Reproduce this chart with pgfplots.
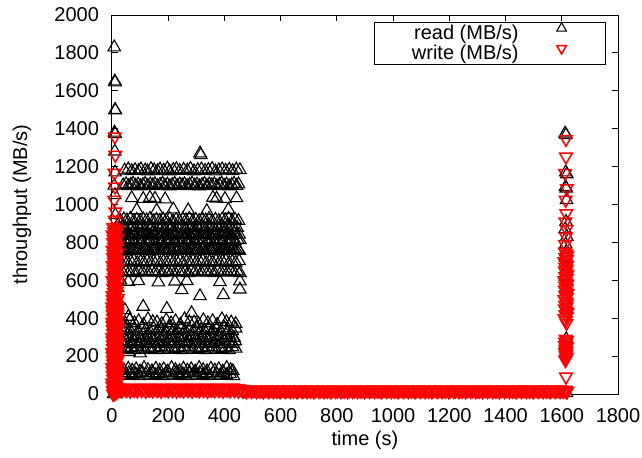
\documentclass[border=0pt]{standalone}
\usepackage{pgfplots}
\pgfplotsset{compat=1.18}
\usepackage{fontspec}
\setmainfont{Liberation Sans}

\tikzset{
    rdmark/.style = {only marks, mark=triangle, mark size=3.6pt, black, mark options={line width=0.55pt}},
    wrmark/.style = {only marks, mark=triangle, mark size=3.6pt, red, mark options={rotate=180, line width=0.75pt}}
}

\begin{document}
\begin{tikzpicture}
\useasboundingbox (-56pt,-31.5pt) rectangle (265pt,197pt);
\begin{axis}[
    scale only axis,
    width=253pt, height=189.5pt,
    xmin=0, xmax=1800, ymin=0, ymax=2000,
    xtick distance=200, ytick distance=200,
    tick align=inside, xtick pos=both, ytick pos=both,
    major tick length=3pt,
    axis on top,
    axis line style={line width=0.5pt},
    every tick/.style={black, line width=0.5pt},
    /pgf/number format/assume math mode=true,
    /pgf/number format/set thousands separator={},
    scaled ticks=false,
    xticklabel style={yshift=-3.5pt},
    yticklabel style={xshift=-3pt},
    xlabel={time (s)}, ylabel={throughput (MB/s)},
    xlabel style={at={(axis description cs:0.5,0)}, anchor=center, yshift=-23pt},
    ylabel style={at={([xshift=-45pt]axis description cs:0,0.5)}, anchor=center},
    clip=false,
    legend cell align=right, legend plot pos=right,
    legend style={at={(0.9763,0.9815)}, anchor=north east, draw=black, line width=0.5pt,
        inner xsep=18.7pt, inner ysep=0.1pt, row sep=0pt, column sep=0pt,
        nodes={inner sep=0.25pt, text height=7.2pt, text depth=2.3pt}},
    legend image code/.code={\path (0pt,0pt) (24pt,0pt); \draw[#1, mark size=2.8pt] plot coordinates {(21pt,3pt)};},
]
% read
\addplot[rdmark] coordinates {
(8,1830) (10,1650) (11,1645) (11,1500) (12,1497) (9,1380) (11,1372) (10,1280) (11,1170) (8,1100) (10,1050) (12,945) (9,865) (11,813) (8,743) (10,690) (12,638) (9,590) (11,520) (8,470) (10,410) (13,350) (9,300) (12,250) (8,190) (11,140) (9,90) (13,50) (10,10) (6,0) (14,0)
% ~1180
(45,1180) (58,1186) (70,1177) (82,1182) (95,1178) (103,1186) (118,1180) (126,1175) (139,1188) (150,1181) (162,1177) (171,1185) (184,1179) (197,1190) (205,1176) (218,1183) (229,1187) (241,1178) (255,1184) (268,1180) (279,1189) (292,1176) (305,1182) (318,1186) (331,1178) (343,1183) (356,1188) (368,1175) (380,1181) (392,1186) (404,1179) (417,1184) (429,1177) (442,1185) (455,1182)
(313,1270) (316,1262)
% ~1105
(40,1102) (50,1108) (58,1098) (67,1105) (75,1111) (84,1100) (93,1106) (101,1097) (110,1104) (118,1110) (127,1099) (136,1107)
(145,1102) (153,1108) (162,1098) (171,1105) (180,1111) (188,1100) (197,1106) (206,1097) (214,1104) (223,1110) (232,1099) (241,1107)
(250,1102) (258,1108) (267,1098) (276,1105) (285,1111) (294,1100) (302,1106) (311,1097) (320,1104) (329,1110) (338,1099) (346,1107)
(355,1102) (364,1108) (373,1098) (382,1105) (390,1111) (399,1100) (408,1106) (417,1097) (426,1104) (434,1110) (443,1099) (450,1107)
% sparse 1033 / 971
(70,1034) (111,1030) (135,1036) (153,1031) (189,1028) (359,1036) (372,1032) (402,1030) (443,1034)
(88,971) (159,968) (218,975) (271,970) (337,966) (414,973)
% ~918
(30,914) (42,922) (53,917) (65,925) (77,912) (88,920) (100,914) (112,922) (123,917) (135,925)
(147,912) (158,920) (170,914) (182,922) (193,917) (205,925) (217,912) (228,920) (240,914) (252,922)
(263,917) (275,925) (287,912) (298,920) (310,914) (322,922) (333,917) (345,925) (357,912) (368,920)
(380,914) (392,922) (403,917) (415,925) (427,912) (438,920) (450,914)
% ~880
(25,878) (37,884) (48,874) (60,886) (72,880) (83,876) (95,878) (107,884)
(118,874) (130,886) (142,880) (153,876) (165,878) (177,884) (188,874) (200,886)
(212,880) (223,876) (235,878) (247,884) (258,874) (270,886) (282,880) (293,876)
(305,878) (317,884) (328,874) (340,886) (352,880) (363,876) (375,878) (387,884)
(398,874) (410,886) (422,880) (433,876) (445,878)
% ~842
(20,842) (29,838) (38,846) (47,840) (56,844) (65,836) (74,848) (83,841)
(92,842) (101,838) (110,846) (119,840) (128,844) (137,836) (146,848) (155,841)
(164,842) (173,838) (182,846) (191,840) (200,844) (209,836) (218,848) (227,841)
(236,842) (245,838) (254,846) (263,840) (272,844) (281,836) (290,848) (299,841)
(308,842) (317,838) (326,846) (335,840) (344,844) (353,836) (362,848) (371,841)
(380,842) (389,838) (398,846) (407,840) (416,844) (425,836) (434,848) (443,841) (452,842)
% ~813
(24,813) (33,809) (42,817) (51,811) (60,815) (69,819) (78,807) (87,814)
(96,813) (105,809) (114,817) (123,811) (132,815) (141,819) (150,807) (159,814)
(168,813) (177,809) (186,817) (195,811) (204,815) (213,819) (222,807) (231,814)
(240,813) (249,809) (258,817) (267,811) (276,815) (285,819) (294,807) (303,814)
(312,813) (321,809) (330,817) (339,811) (348,815) (357,819) (366,807) (375,814)
(384,813) (393,809) (402,817) (411,811) (420,815) (429,819) (438,807) (447,814) (455,813)
% ~760
(22,760) (34,756) (45,764) (57,758) (69,762) (80,766)
(92,760) (104,756) (115,764) (127,758) (139,762) (150,766)
(162,760) (174,756) (185,764) (197,758) (209,762) (220,766)
(232,760) (244,756) (255,764) (267,758) (279,762) (290,766)
(302,760) (314,756) (325,764) (337,758) (349,762) (360,766)
(372,760) (384,756) (395,764) (407,758) (419,762) (430,766)
(442,760) (453,756)
(28,758) (40,763) (51,755) (63,761) (75,765) (86,757) (98,760)
(110,758) (121,763) (133,755) (145,761) (156,765) (168,757) (180,760)
(191,758) (203,763) (215,755) (226,761) (238,765) (250,757) (261,760)
(273,758) (285,763) (296,755) (308,761) (320,765) (331,757) (343,760)
(355,758) (366,763) (378,755) (390,761) (401,765) (413,757) (425,760)
(436,758) (448,763)
% ~698
(20,698) (32,694) (43,702) (55,696) (67,700) (78,704) (90,692)
(102,698) (113,694) (125,702) (137,696) (148,700) (160,704) (172,692)
(183,698) (195,694) (207,702) (218,696) (230,700) (242,704) (253,692)
(265,698) (277,694) (288,702) (300,696) (312,700) (323,704) (335,692)
(347,698) (358,694) (370,702) (382,696) (393,700) (405,704) (417,692)
(428,698) (440,694) (452,702)
% ~645
(26,645) (38,641) (49,649) (61,643) (73,647) (84,639) (96,651) (108,644)
(119,645) (131,641) (143,649) (154,643) (166,647) (178,639) (189,651) (201,644)
(213,645) (224,641) (236,649) (248,643) (259,647) (271,639) (283,651) (294,644)
(306,645) (318,641) (329,649) (341,643) (353,647) (364,639) (376,651) (388,644)
(399,645) (411,641) (423,649) (434,643) (446,647) (455,639)
% sparse 593 / 540 / 450
(30,600) (58,593) (94,596) (165,590) (224,594) (266,597) (384,591) (455,595)
(20,560) (248,549) (313,517) (396,522) (455,552)
(111,461) (46,443) (195,450) (283,427) (58,408)
% ~380
(32,378) (48,370) (63,390) (80,374) (95,385) (112,366) (128,395) (145,380)
(160,378) (177,370) (193,390) (210,374) (226,385) (243,366) (258,395) (275,380)
(292,378) (308,370) (325,390) (341,374) (358,385) (374,366) (391,395) (407,380)
(424,378) (440,370)
% ~338
(22,338) (36,332) (50,346) (64,335) (78,342) (92,330) (106,348)
(120,338) (134,332) (148,346) (162,335) (176,342) (190,330) (204,348)
(218,338) (232,332) (246,346) (260,335) (274,342) (288,330) (302,348)
(316,338) (330,332) (344,346) (358,335) (372,342) (386,330) (400,348)
(414,338) (428,332) (440,346)
% ~303
(28,303) (42,297) (56,310) (70,300) (84,306) (98,295) (112,312)
(126,303) (140,297) (154,310) (168,300) (182,306) (196,295) (210,312)
(224,303) (238,297) (252,310) (266,300) (280,306) (294,295) (308,312)
(322,303) (336,297) (350,310) (364,300) (378,306) (392,295) (406,312)
(420,303) (434,297)
% ~272
(24,272) (38,266) (52,279) (66,269) (80,276) (94,264) (108,281)
(122,272) (136,266) (150,279) (164,269) (178,276) (192,264) (206,281)
(220,272) (234,266) (248,279) (262,269) (276,276) (290,264) (304,281)
(318,272) (332,266) (346,279) (360,269) (374,276) (388,264) (402,281)
(416,272) (430,266) (438,279)
% ~240
(20,240) (32,234) (44,246) (56,237) (68,243) (80,232) (92,248)
(104,240) (116,234) (128,246) (140,237) (152,243) (164,232) (176,248)
(188,240) (200,234) (212,246) (224,237) (236,243) (248,232) (260,248)
(272,240) (284,234) (296,246) (308,237) (320,243) (332,232) (344,248)
(356,240) (368,234) (380,246) (392,237) (404,243) (416,232) (428,248)
(440,240)
(100,215) (60,222)
% ~127
(30,127) (44,121) (58,134) (72,124) (86,131) (100,119) (114,138)
(128,127) (142,121) (156,134) (170,124) (184,131) (198,119) (212,138)
(226,127) (240,121) (254,134) (268,124) (282,131) (296,119) (310,138)
(324,127) (338,121) (352,134) (366,124) (380,131) (394,119) (408,138)
(422,127) (430,121)
% ~103
(36,103) (48,97) (60,110) (72,100) (84,106) (96,95) (108,112)
(120,103) (132,97) (144,110) (156,100) (168,106) (180,95) (192,112)
(204,103) (216,97) (228,110) (240,100) (252,106) (264,95) (276,112)
(288,103) (300,97) (312,110) (324,100) (336,106) (348,95) (360,112)
(372,103) (384,97) (396,110) (408,100) (420,106) (432,95)
% second burst
(1615,1367) (1612,1375) (1618,1160) (1614,1170) (1616,1085) (1613,1092) (1617,1024) (1615,909) (1612,870) (1618,830) (1614,790) (1616,750) (1613,720) (1617,690) (1615,660) (1612,620) (1618,590) (1614,560) (1616,290) (1613,260) (1617,5)
};
\addlegendentry{read (MB/s)}
% write
\addplot[wrmark] coordinates {
(10,1358) (12,1261) (9,1166) (11,1094) (8,1024) (12,962) (10,918)
(4,880) (12,872) (18,864) (7,856) (15,848) (2,840) (10,832) (20,824) (6,816) (14,808)
(4,800) (12,792) (18,784) (7,776) (15,768) (2,760) (10,752) (20,744) (6,736) (14,728)
(4,720) (12,712) (18,704) (7,696) (15,688) (2,680) (10,672) (20,664) (6,656) (14,648)
(4,640) (12,632) (18,624) (7,616) (15,608) (2,600) (10,592) (20,584) (6,576) (14,568)
(4,560) (12,552) (18,544) (7,536) (15,528) (2,520) (10,512) (20,504) (6,496) (14,488)
(4,480) (12,472) (18,464) (7,456) (15,448) (2,440) (10,432) (20,424) (6,416) (14,408)
(4,400) (12,392) (18,384) (7,376) (15,368) (2,360) (10,352) (20,344) (6,336) (14,328)
(4,320) (12,312) (18,304) (7,296) (15,288) (2,280) (10,272) (20,264) (6,256) (14,248)
(4,240) (12,232) (18,224) (7,216) (15,208) (2,200) (10,192) (20,184) (6,176) (14,168)
(4,160) (12,152) (18,144) (7,136) (15,128) (2,120) (10,112) (20,104) (6,96) (14,88)
(4,80) (12,72) (18,64) (7,56) (15,48) (2,40) (10,32) (20,24) (6,16) (14,8) (4,0)
(9,4) (17,12) (3,20) (13,28) (19,36) (5,44) (11,52) (1,60) (16,68) (8,76)
(9,84) (17,92) (3,100) (13,108) (19,116) (5,124) (11,132) (1,140) (16,148) (8,156)
(9,164) (17,172) (3,180) (13,188) (19,196) (5,204) (11,212) (1,220) (16,228) (8,236)
(9,244) (17,252) (3,260) (13,268) (19,276) (5,284) (11,292) (1,300) (16,308) (8,316)
(9,324) (17,332) (3,340) (13,348) (19,356) (5,364) (11,372) (1,380) (16,388) (8,396)
(9,404) (17,412) (3,420) (13,428) (19,436) (5,444) (11,452) (1,460) (16,468) (8,476)
(9,484) (17,492) (3,500)
% low band, first phase
(25,22) (30,30) (35,18) (40,27) (45,33) (50,20) (55,25) (60,31) (65,16) (70,28) (75,24)
(80,22) (85,30) (90,18) (95,27) (100,33) (105,20) (110,25) (115,31) (120,16) (125,28) (130,24)
(135,22) (140,30) (145,18) (150,27) (155,33) (160,20) (165,25) (170,31) (175,16) (180,28) (185,24)
(190,22) (195,30) (200,18) (205,27) (210,33) (215,20) (220,25) (225,31) (230,16) (235,28) (240,24)
(245,22) (250,30) (255,18) (260,27) (265,33) (270,20) (275,25) (280,31) (285,16) (290,28) (295,24)
(300,22) (305,30) (310,18) (315,27) (320,33) (325,20) (330,25) (335,31) (340,16) (345,28) (350,24)
(355,22) (360,30) (365,18) (370,27) (375,33) (380,20) (385,25) (390,31) (395,16) (400,28) (405,24)
(410,22) (415,30) (420,18) (425,27) (430,33) (435,20) (440,25) (445,31) (450,16) (455,28) (460,24)
% low band, idle phase
(466,16) (472,21) (478,13) (484,19) (490,23) (496,15) (502,18) (508,22) (514,14) (520,20)
(526,16) (532,21) (538,13) (544,19) (550,23) (556,15) (562,18) (568,22) (574,14) (580,20)
(586,16) (592,21) (598,13) (604,19) (610,23) (616,15) (622,18) (628,22) (634,14) (640,20)
(646,16) (652,21) (658,13) (664,19) (670,23) (676,15) (682,18) (688,22) (694,14) (700,20)
(706,16) (712,21) (718,13) (724,19) (730,23) (736,15) (742,18) (748,22) (754,14) (760,20)
(766,16) (772,21) (778,13) (784,19) (790,23) (796,15) (802,18) (808,22) (814,14) (820,20)
(826,16) (832,21) (838,13) (844,19) (850,23) (856,15) (862,18) (868,22) (874,14) (880,20)
(886,16) (892,21) (898,13) (904,19) (910,23) (916,15) (922,18) (928,22) (934,14) (940,20)
(946,16) (952,21) (958,13) (964,19) (970,23) (976,15) (982,18) (988,22) (994,14) (1000,20)
(1006,16) (1012,21) (1018,13) (1024,19) (1030,23) (1036,15) (1042,18) (1048,22) (1054,14) (1060,20)
(1066,16) (1072,21) (1078,13) (1084,19) (1090,23) (1096,15) (1102,18) (1108,22) (1114,14) (1120,20)
(1126,16) (1132,21) (1138,13) (1144,19) (1150,23) (1156,15) (1162,18) (1168,22) (1174,14) (1180,20)
(1186,16) (1192,21) (1198,13) (1204,19) (1210,23) (1216,15) (1222,18) (1228,22) (1234,14) (1240,20)
(1246,16) (1252,21) (1258,13) (1264,19) (1270,23) (1276,15) (1282,18) (1288,22) (1294,14) (1300,20)
(1306,16) (1312,21) (1318,13) (1324,19) (1330,23) (1336,15) (1342,18) (1348,22) (1354,14) (1360,20)
(1366,16) (1372,21) (1378,13) (1384,19) (1390,23) (1396,15) (1402,18) (1408,22) (1414,14) (1420,20)
(1426,16) (1432,21) (1438,13) (1444,19) (1450,23) (1456,15) (1462,18) (1468,22) (1474,14) (1480,20)
(1486,16) (1492,21) (1498,13) (1504,19) (1510,23) (1516,15) (1522,18) (1528,22) (1534,14) (1540,20)
(1546,16) (1552,21) (1558,13) (1564,19) (1570,23) (1576,15) (1582,18) (1588,22) (1594,14) (1600,20)
(1606,16) (1612,21) (1618,13)
% second burst
(1615,1345) (1615,1252) (1612,1165) (1618,1085) (1614,1024) (1616,953) (1613,909) (1617,870) (1615,830) (1612,790)
(1611,750) (1616,740) (1620,730) (1613,720) (1618,710) (1609,700) (1615,690) (1619,680) (1612,670) (1617,660)
(1611,650) (1616,640) (1620,630) (1613,620) (1618,610) (1609,600) (1615,590) (1619,580) (1612,570) (1617,560)
(1611,550) (1616,540) (1620,530) (1613,520) (1618,510) (1609,500) (1615,490) (1619,480) (1612,470) (1617,460)
(1611,450) (1616,440) (1620,430) (1613,420) (1618,410) (1609,400) (1615,390)
(1617,374) (1614,290) (1618,282) (1612,274) (1616,266) (1611,258) (1619,250) (1615,242) (1613,234) (1617,226) (1612,218) (1616,210) (1614,202) (1618,194) (1615,186) (1613,178)
(1615,91) (1614,20) (1618,12)
};
\addlegendentry{write (MB/s)}
\end{axis}
\end{tikzpicture}
\end{document}
